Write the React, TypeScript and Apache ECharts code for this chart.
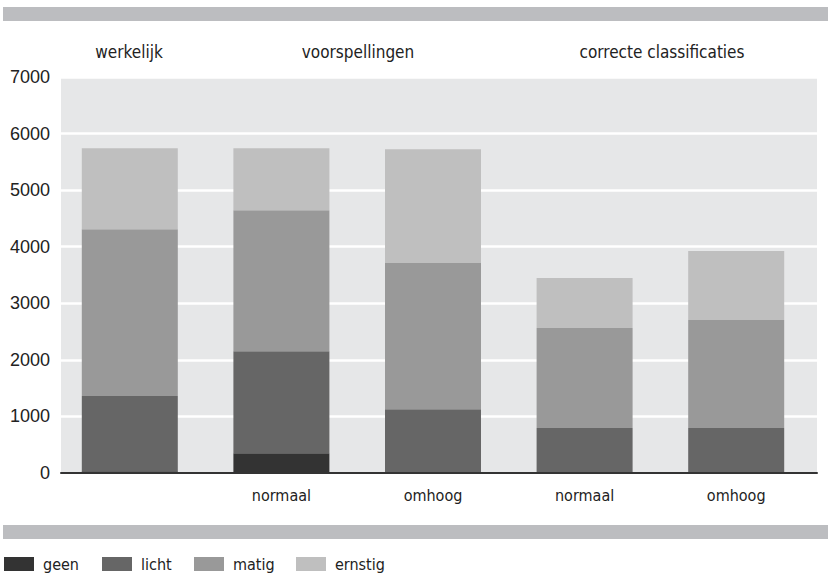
import React, { useEffect, useRef } from "react";
import * as echarts from "echarts";

// Bar groups: the first is the actual distribution, then two predictions and two correct classifications
const groupLabels = ["", "normaal", "omhoog", "normaal", "omhoog"];
const headerLabels = ["werkelijk", "voorspellingen", "correcte classificaties"];
const severityNames = ["geen", "licht", "matig", "ernstig"];

const geen = [30, 350, 0, 0, 0];
const licht = [1330, 1800, 1125, 795, 795];
const matig = [2950, 2495, 2585, 1770, 1910];
const ernstig = [1430, 1095, 2015, 880, 1220];

const yTicks = { min: 0, max: 7000, interval: 1000 };

const severityColors = ["#333333", "#666666", "#999999", "#bfbfbf"];

const NARROW = "'Liberation Sans Narrow', 'DejaVu Sans Condensed', 'Roboto Condensed', 'Liberation Sans', sans-serif";
const REGULAR = "'Liberation Sans', Arial, sans-serif";

// left edge of each legend entry
const legendLefts = [4, 102, 194, 296];

export default function App() {
  const ref = useRef<HTMLDivElement>(null);

  useEffect(() => {
    if (!ref.current) return;
    const chart = echarts.init(ref.current, null, { renderer: "svg" });
    const values = [geen, licht, matig, ernstig];

    chart.setOption({
      animation: false,
      backgroundColor: "#ffffff",
      grid: [
        // background panel, gridlines and value axis
        { left: 61, top: 77, width: 756, height: 396, show: true, backgroundColor: "#e6e7e8", borderWidth: 0 },
        // bars
        { left: 54, top: 77, width: 758, height: 396 },
      ],
      xAxis: [
        {
          gridIndex: 0,
          type: "category",
          data: [""],
          z: 5,
          axisLine: { show: true, lineStyle: { color: "#333333", width: 2 } },
          axisTick: { show: false },
          axisLabel: { show: false },
        },
        {
          gridIndex: 1,
          type: "category",
          data: groupLabels,
          axisLine: { show: false },
          axisTick: { show: false },
          axisLabel: { color: "#222222", fontSize: 16, fontFamily: NARROW, margin: 14 },
        },
      ],
      yAxis: [
        {
          gridIndex: 0,
          type: "value",
          min: yTicks.min,
          max: yTicks.max,
          interval: yTicks.interval,
          axisLine: { show: false },
          axisTick: { show: false },
          axisLabel: {
            color: "#222222",
            fontSize: 18,
            fontFamily: REGULAR,
            margin: 11,
            formatter: (v: number) => String(v),
          },
          splitLine: { show: true, lineStyle: { color: "#ffffff", width: 2.5 } },
        },
        {
          gridIndex: 1,
          type: "value",
          min: yTicks.min,
          max: yTicks.max,
          interval: yTicks.interval,
          show: false,
          splitLine: { show: false },
        },
      ],
      legend: severityNames.map((name, i) => ({
        left: legendLefts[i],
        top: 556,
        padding: 0,
        itemWidth: 30,
        itemHeight: 14,
        icon: "rect",
        textStyle: { color: "#222222", fontSize: 16, fontFamily: NARROW, padding: [0, 0, 0, 4] },
        data: [name],
      })),
      series: severityNames.map((name, i) => ({
        name,
        type: "bar",
        stack: "total",
        xAxisIndex: 1,
        yAxisIndex: 1,
        barWidth: 96,
        itemStyle: { color: severityColors[i] },
        data: values[i],
      })),
      graphic: [
        { type: "rect", left: 3, top: 7, shape: { width: 825, height: 14 }, style: { fill: "#bcbdc0" } },
        { type: "rect", left: 3, top: 525, shape: { width: 825, height: 14 }, style: { fill: "#bcbdc0" } },
        {
          type: "text", x: 129, y: 52,
          style: { text: headerLabels[0], fill: "#222222", font: `17px ${NARROW}`, align: "center", verticalAlign: "middle" },
        },
        {
          type: "text", x: 358, y: 52,
          style: { text: headerLabels[1], fill: "#222222", font: `17px ${NARROW}`, align: "center", verticalAlign: "middle" },
        },
        {
          type: "text", x: 662, y: 52,
          style: { text: headerLabels[2], fill: "#222222", font: `17px ${NARROW}`, align: "center", verticalAlign: "middle" },
        },
      ],
    });

    return () => chart.dispose();
  }, []);

  return (
    <div
      ref={ref}
      style={{ position: "fixed", left: 0, top: 0, width: 828, height: 573 }}
    />
  );
}
